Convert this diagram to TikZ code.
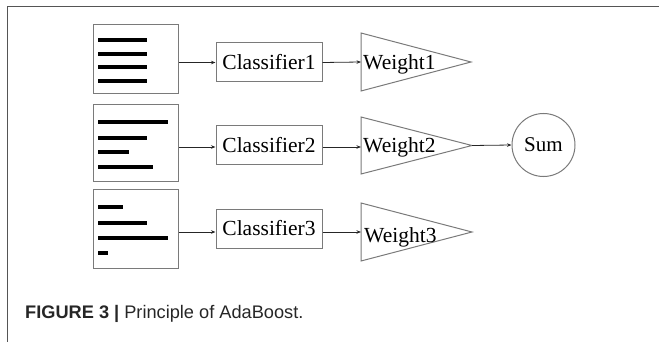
\documentclass[tikz,border=0pt]{standalone}
\usepackage{fontspec}
\setmainfont{Liberation Serif}
\setsansfont{Liberation Sans}
\usetikzlibrary{arrows.meta}
\definecolor{edgegray}{HTML}{7A7A7A}
\definecolor{capgray}{HTML}{262626}
\definecolor{framegray}{HTML}{555555}
\tikzset{
  docbox/.style={draw=edgegray, line width=1pt, minimum width=85pt, inner sep=0pt, anchor=north west},
  clsbox/.style={draw=edgegray, line width=1pt, minimum width=106pt, minimum height=39pt, inner sep=0pt, font=\fontsize{21.5}{24}\selectfont},
  tri/.style={draw=edgegray, line width=1pt, line join=miter},
  wlabel/.style={inner sep=0pt, anchor=base west, font=\fontsize{21.5}{24}\selectfont},
  sumnode/.style={draw=edgegray, line width=1pt, circle, minimum size=63pt, inner sep=0pt, font=\fontsize{21}{24}\selectfont},
  bar/.style={line width=4pt, black},
  conn/.style={draw=black!85, line width=0.8pt, -{Stealth[length=4.5pt,width=3.5pt]}},
  frameline/.style={draw=framegray, line width=1.5pt}
}
\begin{document}
\begin{tikzpicture}[x=1pt,y=-1pt]
\useasboundingbox (0,0) rectangle (659,342);
% page frame
\draw[frameline] (7.5,342) -- (7.5,6.5) -- (659,6.5);
% document boxes
\node[docbox, minimum height=69pt] (d1) at (93,24) {};
\node[docbox, minimum height=77pt] (d2) at (93,104) {};
\node[docbox, minimum height=79pt] (d3) at (93,189) {};
% bars
\draw[bar] (98,40) -- (147,40);
\draw[bar] (98,54) -- (147,54);
\draw[bar] (98,67) -- (147,67);
\draw[bar] (98,81) -- (147,81);
\draw[bar] (98,122) -- (168,122);
\draw[bar] (98,138) -- (147,138);
\draw[bar] (98,152) -- (129,152);
\draw[bar] (98,167) -- (153,167);
\draw[bar] (98,207) -- (123,207);
\draw[bar] (98,223) -- (147,223);
\draw[bar] (98,238) -- (168,238);
\draw[bar] (98,253) -- (108,253);
% classifiers
\node[clsbox] (c1) at (269,62.5) {Classifier1};
\node[clsbox] (c2) at (269,145.5) {Classifier2};
\node[clsbox] (c3) at (269,228.5) {Classifier3};
% weights
\coordinate (w1l) at (361,62);
\coordinate (w1a) at (471,62);
\draw[tri] (361,33) -- (w1a) -- (361,91) -- cycle;
\node[wlabel] (w1) at (363,70) {Weight1};
\coordinate (w2l) at (361,147);
\coordinate (w2a) at (472,145.5);
\draw[tri] (361,117) -- (w2a) -- (361,174) -- cycle;
\node[wlabel] (w2) at (363,153) {Weight2};
\coordinate (w3l) at (361,232);
\coordinate (w3a) at (472,232);
\draw[tri] (361,203) -- (w3a) -- (361,261) -- cycle;
\node[wlabel] (w3) at (364,242) {Weight3};
% sum
\node[sumnode] (s) at (543.5,145) {Sum};
% connectors
\draw[conn] (d1.east |- c1) -- (c1.west);
\draw[conn] (d2.east |- w2l) -- (c2.west |- w2l);
\draw[conn] (d3.east |- w3l) -- (c3.west |- w3l);
\draw[conn] (c1.east) -- (w1l);
\draw[conn] (c2.east |- w2l) -- (w2l);
\draw[conn] (c3.east |- w3l) -- (w3l);
\draw[conn] (w2a) -- (s.west);
% caption
\node[anchor=base west, inner sep=0pt, text=capgray, font=\sffamily\fontsize{18.2}{21}\selectfont] (cap) at (25,318) {\textbf{FIGURE 3 |} Principle of AdaBoost.};
\end{tikzpicture}
\end{document}
